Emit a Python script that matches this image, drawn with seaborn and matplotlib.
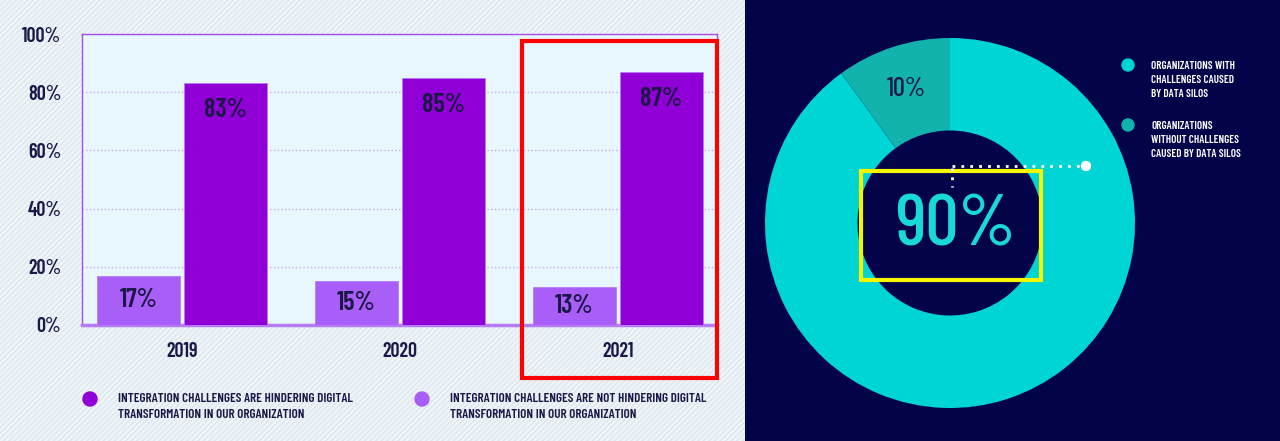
import pandas as pd
import matplotlib.pyplot as plt
import seaborn as sns
from matplotlib.patches import Rectangle, Circle
from matplotlib.lines import Line2D

# bar chart data
years = ['2019', '2020', '2021']
not_hindering = [17, 15, 13]
hindering = [83, 85, 87]
series_names = ['INTEGRATION CHALLENGES ARE NOT HINDERING DIGITAL\nTRANSFORMATION IN OUR ORGANIZATION',
                'INTEGRATION CHALLENGES ARE HINDERING DIGITAL\nTRANSFORMATION IN OUR ORGANIZATION']
y_ticks = [0, 20, 40, 60, 80, 100]

# donut data
silo_labels = ['ORGANIZATIONS WITH\nCHALLENGES CAUSED\nBY DATA SILOS',
               'ORGANIZATIONS\nWITHOUT CHALLENGES\nCAUSED BY DATA SILOS']
silo_values = [90, 10]

NAVY = '#1b1848'
DARK_PURPLE = '#9000d6'
LIGHT_PURPLE = '#a95ef8'
CYAN = '#00d5d5'
TEAL = '#12b3ad'
BG_DARK = '#03034a'

sns.set_theme(style='white')
plt.rcParams['font.family'] = ['Barlow Condensed', 'DejaVu Sans']
plt.rcParams['hatch.linewidth'] = 1.0

W, H = 1280, 441
fig = plt.figure(figsize=(W / 100, H / 100), dpi=100)

# background panels
bg = fig.add_axes([0, 0, 1, 1], zorder=-5)
bg.set_xlim(0, W)
bg.set_ylim(H, 0)
bg.axis('off')
bg.add_patch(Rectangle((0, 0), 745, H, facecolor='#eef4f8', edgecolor='#dde7ee',
                       hatch='//////', linewidth=0))
bg.add_patch(Rectangle((745, 0), W - 745, H, facecolor=BG_DARK, edgecolor='none'))

# ---- bar chart ----
df = pd.DataFrame({
    'year': years * 2,
    'value': not_hindering + hindering,
    'group': [series_names[0]] * 3 + [series_names[1]] * 3,
})

ax = fig.add_axes([82 / W, 1 - 325 / H, 635 / W, 291 / H])
ax.set_facecolor('#e8f7fd')
sns.barplot(data=df, x='year', y='value', hue='group', hue_order=series_names,
            palette=[LIGHT_PURPLE, DARK_PURPLE], saturation=1, width=0.8, gap=0.05,
            edgecolor='#b57cf5', linewidth=0.6, legend=False, ax=ax, zorder=3)
ax.set_xlim(-0.46, 2.455)
ax.set_ylim(0, 100)
ax.set_yticks(y_ticks)
ax.set_yticklabels([f'{t}%' for t in y_ticks])
ax.set_xlabel('')
ax.set_ylabel('')
ax.yaxis.grid(True, linestyle=':', color='#cfa8ee', linewidth=1)
ax.set_axisbelow(True)
ax.tick_params(axis='y', length=7, color='#cfa8ee', pad=8, labelsize=14.5, labelcolor=NAVY)
ax.tick_params(axis='x', length=0, pad=12, labelsize=14.5, labelcolor=NAVY)
for lab in ax.get_xticklabels() + ax.get_yticklabels():
    lab.set_fontweight(600)
for side in ['top', 'left', 'right']:
    ax.spines[side].set_color('#a84ee6')
    ax.spines[side].set_linewidth(1)
ax.spines['bottom'].set_color('#b57cf5')
ax.spines['bottom'].set_linewidth(2.5)

ax.bar_label(ax.containers[0], fmt='%d%%', label_type='center', fontsize=19,
             color=NAVY, fontweight=600)
ax.bar_label(ax.containers[1], fmt='%d%%', padding=-28, fontsize=19,
             color=NAVY, fontweight=600)

# ---- donut ----
dax = fig.add_axes([750 / W, 1 - 423 / H, 400 / W, 400 / H])
dax.set_facecolor('none')
dax.pie(silo_values, colors=[CYAN, TEAL], startangle=90, counterclock=False,
        radius=1, wedgeprops=dict(width=0.5, edgecolor='none'),
        autopct=lambda p: f'{p:.0f}%' if p < 50 else '', pctdistance=0.76,
        textprops=dict(color=NAVY, fontsize=19, fontweight=500))
dax.set_xlim(-1.081, 1.081)
dax.set_ylim(-1.081, 1.081)
dax.set_aspect('equal')
dax.axis('off')
dax.text(0.03, -0.02, f'{silo_values[0]}%', ha='center', va='center',
         fontsize=53, color='#19d8d8', fontweight=500)

# ---- overlay decorations ----
ov = fig.add_axes([0, 0, 1, 1], zorder=10)
ov.set_xlim(0, W)
ov.set_ylim(H, 0)
ov.axis('off')
ov.patch.set_alpha(0)

ov.add_patch(Rectangle((522, 41), 195, 337, fill=False, edgecolor='#ff0000', linewidth=3))
ov.add_patch(Rectangle((861, 171), 180, 109, fill=False, edgecolor='#f5f500', linewidth=3))
ov.add_line(Line2D([952, 1083], [166, 166], color='white', linestyle=(0, (1, 2.2)), linewidth=2))
ov.add_line(Line2D([952, 952], [168, 187], color='white', linestyle=(0, (1, 2.2)), linewidth=2))
ov.add_patch(Circle((1086, 166), 4.5, color='white'))

# bar legend
for cx, tx, color, name in [(90, 118, DARK_PURPLE, series_names[1]),
                            (422, 450, LIGHT_PURPLE, series_names[0])]:
    ov.add_patch(Circle((cx, 399), 7, color=color))
    ov.text(tx, 407, name, ha='left', va='center', fontsize=9.5, fontweight=600,
            color=NAVY, linespacing=1.45)

# donut legend
for cy, color, name in [(65, CYAN, silo_labels[0]), (125, TEAL, silo_labels[1])]:
    ov.add_patch(Circle((1128, cy), 6, color=color))
    ov.text(1151, cy + 15, name, ha='left', va='center', fontsize=8, fontweight=600,
            color='white', linespacing=1.5)

fig.savefig('out.png', dpi=100)
